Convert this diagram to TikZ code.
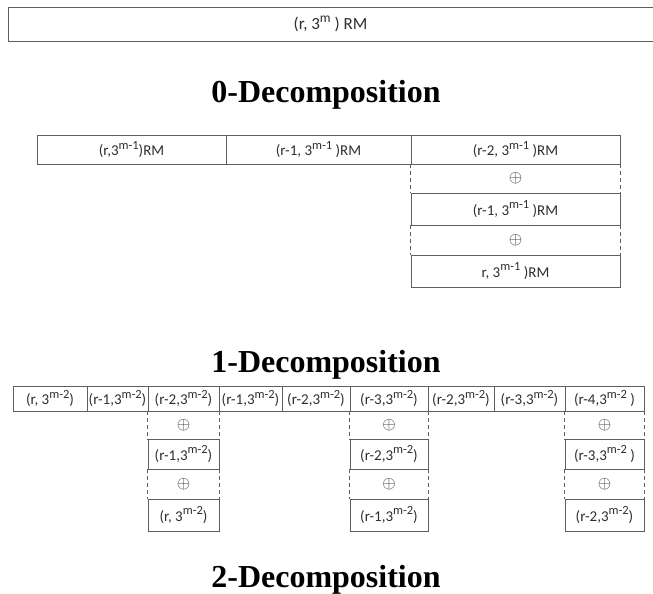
\documentclass[tikz,border=0pt]{standalone}
\usepackage{fontspec}
\setmainfont{Carlito}
\newfontfamily\titlefont{Liberation Serif}
\definecolor{linec}{HTML}{5E5E5E}
\definecolor{txtc}{HTML}{2E2E2E}
\newcommand{\sps}[1]{\raisebox{0.42em}{\fontsize{12.5}{12.5}\selectfont #1}}
\newcommand{\spb}[1]{\raisebox{0.42em}{\fontsize{13.5}{13.5}\selectfont #1}}
\begin{document}
\begin{tikzpicture}[x=1pt,y=-1pt,
  cell/.style={draw=linec, line width=0.8pt, inner sep=0pt, text=txtc, font=\fontsize{15}{15}\selectfont},
  opcell/.style={inner sep=0pt, text=txtc, font=\fontsize{17}{17}\selectfont},
  dsh/.style={draw=linec, line width=0.8pt, dash pattern=on 4pt off 3pt},
  title/.style={inner sep=0pt, font=\titlefont\bfseries\fontsize{32}{32}\selectfont}]
\fill[white] (0,0) rectangle (653,594);
\useasboundingbox (0,0) rectangle (653,594);

% top level
\node[cell, minimum width=645pt, minimum height=34pt, font=\fontsize{17}{17}\selectfont] (top) at (330.5,24) {(r, 3\spb{m} ) RM};
\node[title] (t0) at (326,95) {0-Decomposition};

% level 1
\node[cell, minimum width=189pt, minimum height=29pt] (a1) at (131.5,149.5) {(r,3\sps{m-1})RM};
\node[cell, minimum width=185pt, minimum height=29pt] (a2) at (318.5,149.5) {(r-1, 3\sps{m-1} )RM};
\node[cell, minimum width=209pt, minimum height=29pt] (a3) at (515.5,149.5) {(r-2, 3\sps{m-1} )RM};
\node[opcell, minimum width=209pt, minimum height=29pt] (ao1) at (515.5,178.5) {$\oplus$};
\node[cell, minimum width=209pt, minimum height=32pt] (a4) at (515.5,209) {(r-1, 3\sps{m-1} )RM};
\node[opcell, minimum width=209pt, minimum height=30pt] (ao2) at (515.5,240) {$\oplus$};
\node[cell, minimum width=209pt, minimum height=32pt] (a5) at (515.5,271) {r, 3\sps{m-1} )RM};
\foreach \o in {ao1,ao2}{
  \draw[dsh] (\o.north west) -- (\o.south west);
  \draw[dsh] (\o.north east) -- (\o.south east);
}
\node[title] (t1) at (326,365) {1-Decomposition};

% level 2 row
\node[cell, minimum width=74pt, minimum height=25pt] (b1) at (50,398.5) {(r, 3\sps{m-2})};
\node[cell, minimum width=61pt, minimum height=25pt] (b2) at (117.5,398.5) {(r-1,3\sps{m-2})};
\node[cell, minimum width=71pt, minimum height=25pt] (b3) at (183.5,398.5) {(r-2,3\sps{m-2})};
\node[cell, minimum width=63pt, minimum height=25pt] (b4) at (250.5,398.5) {(r-1,3\sps{m-2})};
\node[cell, minimum width=68pt, minimum height=25pt] (b5) at (316,398.5) {(r-2,3\sps{m-2})};
\node[cell, minimum width=78pt, minimum height=25pt] (b6) at (389,398.5) {(r-3,3\sps{m-2})};
\node[cell, minimum width=66pt, minimum height=25pt] (b7) at (461,398.5) {(r-2,3\sps{m-2})};
\node[cell, minimum width=71pt, minimum height=25pt] (b8) at (529.5,398.5) {(r-3,3\sps{m-2})};
\node[cell, minimum width=79pt, minimum height=25pt] (b9) at (604.5,398.5) {(r-4,3\sps{m-2} )};

% stacks
\node[opcell, minimum width=71pt, minimum height=28pt] (p1) at (183.5,425) {$\oplus$};
\node[cell, minimum width=71pt, minimum height=30pt] (q1) at (183.5,454) {(r-1,3\sps{m-2})};
\node[opcell, minimum width=71pt, minimum height=30pt] (p2) at (183.5,484) {$\oplus$};
\node[cell, minimum width=71pt, minimum height=32pt] (q2) at (183.5,515) {(r, 3\sps{m-2})};

\node[opcell, minimum width=78pt, minimum height=28pt] (p3) at (389,425) {$\oplus$};
\node[cell, minimum width=78pt, minimum height=30pt] (q3) at (389,454) {(r-2,3\sps{m-2})};
\node[opcell, minimum width=78pt, minimum height=30pt] (p4) at (389,484) {$\oplus$};
\node[cell, minimum width=78pt, minimum height=32pt] (q4) at (389,515) {(r-1,3\sps{m-2})};

\node[opcell, minimum width=79pt, minimum height=28pt] (p5) at (604.5,425) {$\oplus$};
\node[cell, minimum width=79pt, minimum height=30pt] (q5) at (604.5,454) {(r-3,3\sps{m-2} )};
\node[opcell, minimum width=79pt, minimum height=30pt] (p6) at (604.5,484) {$\oplus$};
\node[cell, minimum width=79pt, minimum height=32pt] (q6) at (604.5,515) {(r-2,3\sps{m-2})};

\foreach \o in {p1,p2,p3,p4,p5,p6}{
  \draw[dsh] (\o.north west) -- (\o.south west);
  \draw[dsh] (\o.north east) -- (\o.south east);
}
\node[title] (t2) at (326,580) {2-Decomposition};
\end{tikzpicture}
\end{document}
